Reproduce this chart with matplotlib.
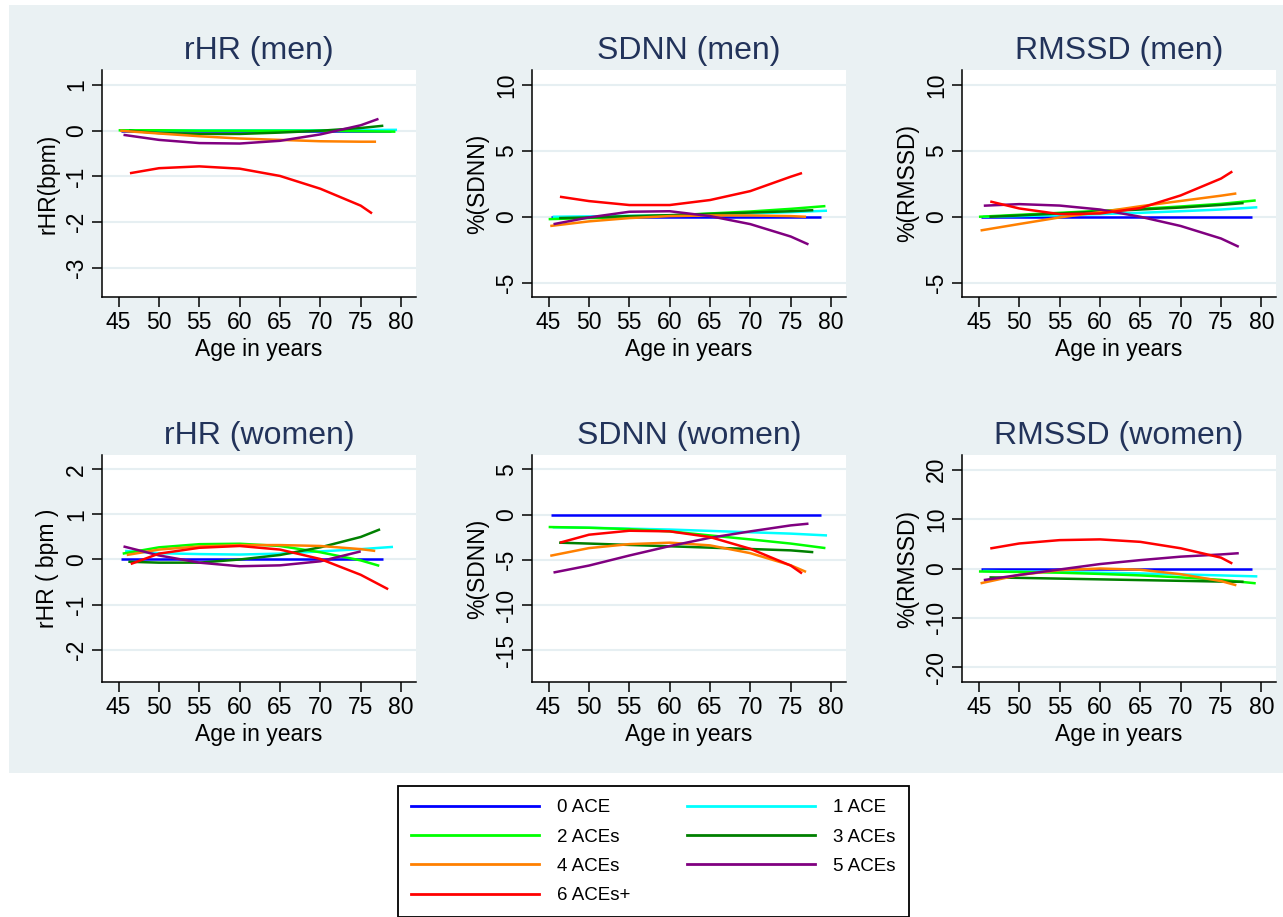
import matplotlib
matplotlib.use('Agg')
import matplotlib.pyplot as plt
from matplotlib.patches import Rectangle
from matplotlib.lines import Line2D

plt.rcParams['font.family'] = ['Liberation Sans', 'DejaVu Sans']
plt.rcParams['axes.unicode_minus'] = False

# ---- data ----
SERIES = ['0 ACE', '1 ACE', '2 ACEs', '3 ACEs', '4 ACEs', '5 ACEs', '6 ACEs+']
COLORS = ['#0000FF', '#00FFFF', '#00FF00', '#008000', '#FF8000', '#800080', '#FF0000']

# ages of the fitted curves (same for all panels except rHR women)
AGES = [
    [45.3, 50, 55, 60, 65, 70, 75, 78.8],
    [45.5, 50, 55, 60, 65, 70, 75, 79.5],
    [45.0, 50, 55, 60, 65, 70, 75, 79.3],
    [46.3, 50, 55, 60, 65, 70, 75, 77.8],
    [45.2, 50, 55, 60, 65, 70, 75, 76.9],
    [45.6, 50, 55, 60, 65, 70, 75, 77.2],
    [46.4, 50, 55, 60, 65, 70, 75, 76.4],
]
AGES_RHR_W = [
    [45.3, 50, 55, 60, 65, 70, 75, 77.7],
    [45.8, 50, 55, 60, 65, 70, 75, 79.0],
    [45.5, 50, 55, 60, 65, 70, 75, 77.3],
    [46.2, 50, 55, 60, 65, 70, 75, 77.4],
    [46.0, 50, 55, 60, 65, 70, 75, 76.8],
    [45.6, 50, 55, 60, 65, 70, 75],
    [46.5, 50, 55, 60, 65, 70, 75, 78.4],
]

RHR_MEN = [
    [0, 0, 0, 0, 0, 0, 0, 0],
    [0.01, 0.01, 0.01, 0.01, 0.01, 0.01, 0.015, 0.02],
    [0.01, 0.01, 0.0, 0.0, 0.0, 0.0, -0.01, -0.02],
    [0.0, -0.05, -0.07, -0.07, -0.04, 0.0, 0.06, 0.11],
    [0.0, -0.06, -0.12, -0.17, -0.2, -0.23, -0.24, -0.24],
    [-0.09, -0.2, -0.27, -0.28, -0.22, -0.08, 0.12, 0.26],
    [-0.93, -0.82, -0.78, -0.83, -0.99, -1.27, -1.64, -1.81],
]
SDNN_MEN = [
    [0, 0, 0, 0, 0, 0, 0, 0],
    [0.0, 0.03, 0.07, 0.1, 0.17, 0.25, 0.35, 0.46],
    [-0.18, -0.1, 0.0, 0.1, 0.25, 0.4, 0.6, 0.81],
    [-0.1, -0.05, 0.05, 0.12, 0.22, 0.32, 0.42, 0.5],
    [-0.7, -0.35, -0.1, 0.05, 0.1, 0.1, 0.05, 0.0],
    [-0.56, -0.05, 0.38, 0.42, 0.05, -0.56, -1.5, -2.1],
    [1.52, 1.19, 0.89, 0.89, 1.27, 1.95, 3.04, 3.32],
]
RMSSD_MEN = [
    [0, 0, 0, 0, 0, 0, 0, 0],
    [0.0, 0.05, 0.12, 0.2, 0.3, 0.42, 0.55, 0.72],
    [0.0, 0.15, 0.3, 0.45, 0.6, 0.78, 0.98, 1.24],
    [0.0, 0.1, 0.25, 0.4, 0.55, 0.7, 0.9, 1.04],
    [-1.04, -0.55, -0.05, 0.35, 0.8, 1.2, 1.6, 1.77],
    [0.84, 0.96, 0.85, 0.55, 0.0, -0.7, -1.65, -2.28],
    [1.16, 0.63, 0.2, 0.25, 0.66, 1.62, 2.9, 3.44],
]
RHR_WOMEN = [
    [0, 0, 0, 0, 0, 0, 0, 0],
    [0.19, 0.14, 0.12, 0.11, 0.13, 0.18, 0.23, 0.28],
    [0.13, 0.27, 0.34, 0.35, 0.3, 0.16, -0.02, -0.14],
    [-0.05, -0.07, -0.07, 0.0, 0.1, 0.27, 0.5, 0.67],
    [0.1, 0.22, 0.29, 0.32, 0.32, 0.3, 0.23, 0.19],
    [0.29, 0.09, -0.07, -0.15, -0.13, -0.04, 0.18],
    [-0.1, 0.13, 0.26, 0.3, 0.22, 0.01, -0.34, -0.66],
]
SDNN_WOMEN = [
    [0, 0, 0, 0, 0, 0, 0, 0],
    [-1.4, -1.45, -1.55, -1.65, -1.8, -1.95, -2.1, -2.3],
    [-1.37, -1.45, -1.6, -1.85, -2.3, -2.74, -3.2, -3.7],
    [-3.1, -3.2, -3.35, -3.5, -3.65, -3.8, -3.95, -4.15],
    [-4.55, -3.7, -3.26, -3.1, -3.4, -4.26, -5.6, -6.33],
    [-6.4, -5.63, -4.52, -3.48, -2.56, -1.85, -1.19, -1.0],
    [-3.1, -2.22, -1.78, -1.85, -2.48, -3.78, -5.63, -6.5],
]
RMSSD_WOMEN = [
    [0, 0, 0, 0, 0, 0, 0, 0],
    [-0.5, -0.6, -0.7, -0.85, -1.0, -1.2, -1.4, -1.6],
    [-0.6, -0.7, -0.85, -1.1, -1.4, -1.8, -2.3, -3.0],
    [-1.8, -1.9, -2.05, -2.2, -2.35, -2.5, -2.65, -2.7],
    [-3.0, -1.3, -0.35, 0.0, -0.25, -1.15, -2.55, -3.4],
    [-2.35, -1.3, -0.2, 0.9, 1.7, 2.4, 2.85, 3.1],
    [4.06, 5.07, 5.75, 5.9, 5.4, 4.1, 2.2, 1.0],
]

X_TICKS = [45, 50, 55, 60, 65, 70, 75, 80]

PANELS = [
    ('rHR (men)', 'rHR(bpm)', RHR_MEN, AGES, [-3, -2, -1, 0, 1], (-3.64, 1.33)),
    ('SDNN (men)', '%(SDNN)', SDNN_MEN, AGES, [-5, 0, 5, 10], (-6.09, 11.14)),
    ('RMSSD (men)', '%(RMSSD)', RMSSD_MEN, AGES, [-5, 0, 5, 10], (-6.09, 11.14)),
    ('rHR (women)', 'rHR ( bpm )', RHR_WOMEN, AGES_RHR_W, [-2, -1, 0, 1, 2], (-2.72, 2.32)),
    ('SDNN (women)', '%(SDNN)', SDNN_WOMEN, AGES, [-15, -10, -5, 0, 5], (-18.5, 6.59)),
    ('RMSSD (women)', '%(RMSSD)', RMSSD_WOMEN, AGES, [-20, -10, 0, 10, 20], (-23.0, 23.0)),
]

BG = '#EAF1F3'
TITLE_COLOR = '#22335A'
W, H = 1283, 917

fig = plt.figure(figsize=(W / 100, H / 100), dpi=100, facecolor='white')
fig.patches.append(Rectangle((9 / W, 1 - 773 / H), 1 - 9 / W, (773 - 5) / H,
                             transform=fig.transFigure, facecolor=BG,
                             edgecolor='none', zorder=-10))

lefts = [101.7, 531.7, 962]
tops = [70, 455]
aw, ah = 314.3, 227

for i, (title, ylab, data, ages, yticks, ylim) in enumerate(PANELS):
    r, c = divmod(i, 3)
    ax = fig.add_axes([lefts[c] / W, 1 - (tops[r] + ah) / H, aw / W, ah / H])
    ax.set_facecolor('white')
    for k in range(len(SERIES)):
        ax.plot(ages[k], data[k], color=COLORS[k], lw=1.8, solid_capstyle='butt')
    ax.set_xlim(42.9, 81.85)
    ax.set_ylim(*ylim)
    ax.set_xticks(X_TICKS)
    ax.set_yticks(yticks)
    ax.set_yticklabels([str(t) for t in yticks], rotation=90, va='center')
    ax.grid(axis='y', color='#E6EFF2', lw=1.5)
    ax.set_axisbelow(True)
    for s in ['top', 'right']:
        ax.spines[s].set_visible(False)
    for s in ['left', 'bottom']:
        ax.spines[s].set_linewidth(1.1)
    ax.tick_params(axis='both', length=7, width=1.1, labelsize=16.5, colors='black')
    ax.tick_params(axis='y', pad=3)
    ax.tick_params(axis='x', pad=3)
    ax.set_title(title, fontsize=23, color=TITLE_COLOR, pad=8)
    ax.set_xlabel('Age in years', fontsize=16.5, labelpad=3)
    ax.set_ylabel(ylab, fontsize=16.5, labelpad=4)

# legend below the panels, two columns filled row-wise
handles = [Line2D([], [], color=col, lw=2) for col in COLORS]
order = [0, 2, 4, 6, 1, 3, 5]
leg = fig.legend([handles[j] for j in order], [SERIES[j] for j in order],
                 loc='upper left', bbox_to_anchor=(398 / W, 1 - 786 / H),
                 borderaxespad=0, ncol=2, fontsize=13.5, handlelength=6.8,
                 handletextpad=1.0, columnspacing=3.0, labelspacing=0.65,
                 borderpad=0.7, fancybox=False, framealpha=1, edgecolor='black')
leg.get_frame().set_linewidth(1.3)

fig.savefig('out.png', dpi=100, facecolor='white')
